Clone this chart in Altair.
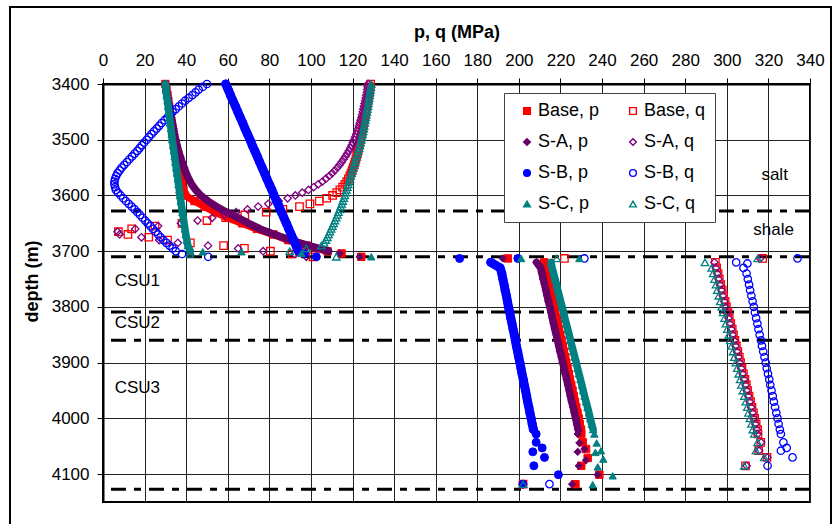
import altair as alt
import pandas as pd

# ---------------- data ----------------
SERIES = ["Base, p", "Base, q", "S-A, p", "S-A, q", "S-B, p", "S-B, q", "S-C, p", "S-C, q"]
COLORS = ["#FF0000", "#FF0000", "#660066", "#800080", "#0000FF", "#0000FF", "#008080", "#008080"]
FILLS = ["#FF0000", "transparent", "#660066", "transparent", "#0000FF", "transparent", "#008080", "transparent"]
SHAPES = ["square", "square", "diamond", "diamond", "circle", "circle", "triangle-up", "triangle-up"]

DEPTH_UP_P = list(range(3400, 3701, 10))   # upper p profiles
DEPTH_UP_Q = list(range(3400, 3711, 5))    # upper q profiles
DEPTH_LO = list(range(3720, 4021, 10))     # lower profiles

base_p_up = [30.0, 30.5, 31.0, 31.4, 31.8, 32.2, 32.6, 33.0, 33.4, 33.8, 34.2, 34.6, 35.0, 35.5, 36.0, 36.5,
             37.0, 37.5, 38.0, 38.7, 39.5, 44.0, 49.0, 54.0, 60.0, 67.0, 74.0, 82.0, 89.0, 98.0, 108.0]
sa_p_up = [30.0, 30.4, 30.9, 31.4, 31.9, 32.4, 32.9, 33.4, 33.9, 34.4, 34.9, 35.6, 36.3, 37.1, 38.0, 39.0,
           40.0, 41.2, 42.6, 44.6, 47.0, 50.5, 54.5, 59.5, 65.0, 70.0, 75.5, 82.5, 90.0, 99.0, 108.5]
sb_p_up = [59.0, 60.2, 61.3, 62.5, 63.7, 64.8, 66.0, 67.2, 68.3, 69.5, 70.7, 71.8, 73.0, 74.2, 75.3, 76.5,
           77.7, 78.8, 80.0, 81.2, 82.3, 83.5, 84.7, 85.8, 87.0, 88.2, 89.3, 90.5, 91.7, 92.8, 94.0]
sc_p_up = [30.0, 30.3, 30.6, 31.0, 31.3, 31.7, 32.0, 32.3, 32.7, 33.0, 33.3, 33.7, 34.1, 34.5, 34.8, 35.2,
           35.6, 36.0, 36.3, 36.7, 37.0, 37.4, 37.8, 38.2, 38.6, 39.0, 39.4, 39.8, 40.3, 40.8, 42.0]

base_q_up = [128.7, 128.5, 128.3, 128.1, 127.9, 127.6, 127.4, 127.1, 126.9, 126.6,
             126.4, 126.1, 125.9, 125.6, 125.4, 125.1, 124.9, 124.6, 124.4, 124.1,
             123.8, 123.5, 123.2, 122.9, 122.6, 122.3, 122.0, 121.6, 121.2, 120.8,
             120.3, 119.8, 119.3, 118.7, 118.0, 117.2, 116.3, 115.2, 113.9, 112.4,
             110.4, 107.6, 104.0, 99.5, 94.5, 86.5, 78.5, 68.2, 59.0, 50.0,
             38.0, 25.0, 13.8, 7.4, 12.0, 22.0, 31.0, 42.0, 58.0, 68.0,
             80.5, 91.0, 101.0]
sa_q_up = [127.5, 127.3, 127.1, 126.9, 126.6, 126.4, 126.1, 125.8, 125.5, 125.2,
           124.9, 124.6, 124.3, 123.9, 123.5, 123.1, 122.7, 122.3, 121.8, 121.3,
           120.8, 120.2, 119.6, 118.9, 118.2, 117.4, 116.6, 115.7, 114.8, 113.8,
           112.7, 111.5, 110.2, 108.8, 107.2, 105.5, 103.5, 101.3, 98.8, 95.8,
           92.5, 88.8, 84.5, 79.5, 74.6, 69.5, 64.0, 58.6, 52.5, 45.5,
           37.5, 26.5, 15.5, 7.0, 8.0, 18.5, 27.0, 36.0, 50.5, 65.0,
           77.0, 92.2, 97.8]
sb_q_up = [50.0, 48.0, 46.0, 44.5, 43.0, 41.2, 39.5, 38.0, 36.5, 35.0,
           33.5, 32.2, 31.0, 29.6, 28.2, 27.0, 25.8, 24.5, 23.3, 22.1,
           21.0, 19.8, 18.7, 17.6, 16.5, 15.2, 14.0, 12.7, 11.5, 10.2,
           9.0, 8.0, 7.0, 6.3, 5.8, 5.5, 5.5, 5.8, 6.2, 7.2,
           8.5, 9.7, 11.0, 12.4, 13.8, 15.2, 16.5, 17.8, 19.0, 20.3,
           21.5, 22.8, 24.0, 25.3, 26.5, 27.7, 29.0, 30.5, 32.0, 33.5,
           35.0, 38.0, 50.6]
sc_q_up = [129.0, 128.8, 128.6, 128.4, 128.2, 128.0, 127.8, 127.6, 127.4, 127.1,
           126.9, 126.6, 126.4, 126.1, 125.9, 125.6, 125.4, 125.1, 124.8, 124.5,
           124.2, 123.8, 123.5, 123.1, 122.7, 122.3, 121.9, 121.5, 121.1, 120.7,
           120.3, 119.9, 119.5, 119.1, 118.7, 118.3, 117.9, 117.5, 117.1, 116.7,
           116.3, 115.8, 115.3, 114.8, 114.3, 113.8, 113.2, 112.7, 112.1, 111.5,
           110.9, 110.3, 109.7, 109.1, 108.5, 107.9, 107.2, 106.3, 105.0, 97.8,
           89.8, 41.8, 112.2]

base_p_lo = [212.2, 212.8, 213.4, 214.0, 214.6, 215.2, 215.8, 216.3, 216.9, 217.5, 218.1, 218.7, 219.3, 219.9,
             220.5, 221.1, 221.7, 222.3, 222.8, 223.4, 224.0, 224.6, 225.2, 225.8, 226.4, 227.0, 227.6, 228.2,
             228.8, 229.3, 229.9]
sa_p_lo = [208.5, 210.5, 211.1, 211.7, 212.4, 213.0, 213.6, 214.2, 214.9, 215.5, 216.1, 216.7, 217.3, 218.0,
           218.6, 219.2, 219.8, 220.5, 221.1, 221.7, 222.3, 223.0, 223.6, 224.2, 224.8, 225.4, 226.1, 226.7,
           227.3, 227.9, 228.5]
sb_p_lo = [186.5, 191.0, 191.8, 192.3, 192.9, 193.4, 194.0, 194.5, 195.0, 195.6, 196.1, 196.7, 197.2, 197.8,
           198.3, 198.8, 199.4, 199.9, 200.5, 201.0, 201.5, 202.1, 202.6, 203.2, 203.7, 204.2, 204.8, 205.3,
           205.9, 206.4, 207.0]
sc_p_lo = [215.4, 216.0, 216.7, 217.4, 218.1, 218.7, 219.4, 220.1, 220.8, 221.5, 222.1, 222.8, 223.5, 224.2,
           224.8, 225.5, 226.2, 226.9, 227.6, 228.2, 228.9, 229.6, 230.3, 230.9, 231.6, 232.3, 233.0, 233.7,
           234.3, 235.0, 235.7]
base_q_lo = [294.5, 295.1, 295.8, 296.4, 297.1, 297.8, 298.5, 299.2, 299.8, 300.5, 301.2, 301.9, 302.6, 303.2,
             303.9, 304.6, 305.3, 306.0, 306.6, 307.3, 308.0, 308.7, 309.4, 310.0, 310.7, 311.4, 312.1, 312.8,
             313.4, 314.1, 314.8]
sa_q_lo = [294.0, 294.7, 295.4, 296.0, 296.7, 297.4, 298.1, 298.8, 299.4, 300.1, 300.8, 301.5, 302.2, 302.8,
           303.5, 304.2, 304.9, 305.6, 306.2, 306.9, 307.6, 308.3, 309.0, 309.6, 310.3, 311.0, 311.7, 312.4,
           313.0, 313.7, 314.4]
sb_q_lo = [304.5, 308.0, 309.5, 310.1, 310.7, 311.2, 311.8, 312.4, 313.0, 313.5, 314.1, 314.7, 315.2, 315.8,
           316.4, 316.9, 317.5, 318.1, 318.7, 319.2, 319.8, 320.4, 320.9, 321.5, 322.1, 322.6, 323.2, 323.8,
           324.4, 324.9, 325.5]
sc_q_lo = [289.5, 292.7, 293.4, 294.1, 294.8, 295.4, 296.1, 296.8, 297.5, 298.2, 298.9, 299.5, 300.2, 300.9,
           301.6, 302.3, 303.0, 303.6, 304.3, 305.0, 305.7, 306.4, 307.0, 307.7, 308.4, 309.1, 309.8, 310.4,
           311.1, 311.8, 312.5]

# isolated points (depth, value)
base_p_sd = [3704, 3710, 3713, 4028, 4043, 4055, 4071, 4085, 4101, 4118]
base_p_sv = [114.7, 124.2, 194.7, 230.0, 230.7, 232.3, 233.1, 230.0, 238.7, 227.2]
sa_p_sd = [3704, 3710, 3713, 4028, 4044, 4055, 4060, 4075, 4085, 4101, 4118]
sa_p_sv = [113.8, 123.4, 192.3, 228.3, 229.1, 231.5, 228.3, 232.3, 228.8, 237.9, 225.6]
sb_p_sd = [3704, 3710, 3713, 3713, 4028, 4043, 4053, 4060, 4070, 4085, 4101, 4118]
sb_p_sv = [97.0, 102.6, 171.5, 199.5, 208.3, 208.3, 211.2, 206.7, 212.3, 207.2, 219.0, 201.9]
sc_p_sd = [3701, 3701, 3704, 3710, 3713, 3713, 4028, 4044, 4058, 4061, 4073, 4087, 4103, 4119]
sc_p_sv = [48.0, 66.6, 95.4, 129.0, 201.1, 229.1, 236.3, 237.4, 239.5, 236.8, 240.6, 237.9, 245.1, 235.5]
base_q_sd = [3713, 3713, 4028, 4043, 4058, 4070, 4085, 4118]
base_q_sv = [221.9, 317.2, 315.0, 316.3, 315.3, 319.3, 309.0, 202.0]
sa_q_sd = [3713, 4028, 4043, 4058, 4070, 4085, 4118]
sa_q_sv = [316.0, 314.8, 316.5, 315.5, 319.5, 309.5, 202.0]
sb_q_sd = [3713, 3713, 3722, 4028, 4043, 4053, 4058, 4070, 4085, 4118]
sb_q_sv = [231.5, 334.0, 309.9, 326.0, 327.2, 328.8, 326.0, 331.6, 319.6, 214.7]
sc_q_sd = [3713, 3713, 4028, 4043, 4058, 4070, 4085, 4118]
sc_q_sv = [218.2, 314.8, 313.2, 314.8, 314.0, 318.0, 308.4, 202.0]

# horizon lines and unit labels
horizon_depths = [3628, 3710, 3809, 3860, 4127]
unit_labels = ["salt", "shale", "CSU1", "CSU2", "CSU3"]
unit_x = [323.0, 322.5, 16.5, 16.5, 16.5]
unit_depth = [3563, 3662, 3754, 3829, 3946]

x_ticks = list(range(0, 341, 20))
y_ticks = list(range(3400, 4101, 100))

UP = {
    "Base, p": (DEPTH_UP_P, base_p_up), "S-A, p": (DEPTH_UP_P, sa_p_up),
    "S-B, p": (DEPTH_UP_P, sb_p_up), "S-C, p": (DEPTH_UP_P, sc_p_up),
    "Base, q": (DEPTH_UP_Q, base_q_up), "S-A, q": (DEPTH_UP_Q, sa_q_up),
    "S-B, q": (DEPTH_UP_Q, sb_q_up), "S-C, q": (DEPTH_UP_Q, sc_q_up),
}
LO = {
    "Base, p": base_p_lo, "S-A, p": sa_p_lo, "S-B, p": sb_p_lo, "S-C, p": sc_p_lo,
    "Base, q": base_q_lo, "S-A, q": sa_q_lo, "S-B, q": sb_q_lo, "S-C, q": sc_q_lo,
}
SC = {
    "Base, p": (base_p_sd, base_p_sv), "S-A, p": (sa_p_sd, sa_p_sv),
    "S-B, p": (sb_p_sd, sb_p_sv), "S-C, p": (sc_p_sd, sc_p_sv),
    "Base, q": (base_q_sd, base_q_sv), "S-A, q": (sa_q_sd, sa_q_sv),
    "S-B, q": (sb_q_sd, sb_q_sv), "S-C, q": (sc_q_sd, sc_q_sv),
}

FONT = "Liberation Sans"

X = alt.X("value:Q",
          scale=alt.Scale(domain=[0, 340], nice=False, zero=False),
          axis=alt.Axis(orient="top", values=x_ticks, title="p, q (MPa)", labelFlush=False,
                        labelOverlap=False, labelPadding=9, titlePadding=10, tickSize=6))
Y = alt.Y("depth:Q",
          scale=alt.Scale(domain=[3400, 4150], reverse=True, nice=False, zero=False),
          axis=alt.Axis(values=y_ticks, title="depth (m)", labelFlush=False, labelOverlap=False,
                        labelPadding=8, titlePadding=10, tickSize=6, format="d", titleY=197))

leg = alt.Legend(orient="none", legendX=401, legendY=9, columns=2, direction="horizontal",
                 fillColor="white", strokeColor="#444", padding=9, symbolOffset=5,
                 labelFont=FONT, labelFontSize=18, labelColor="black", labelOffset=2,
                 symbolSize=45, symbolStrokeWidth=1.4, rowPadding=13, columnPadding=19)
C = alt.Color("series:N", scale=alt.Scale(domain=SERIES, range=COLORS), legend=leg, title=None)
F = alt.Fill("series:N", scale=alt.Scale(domain=SERIES, range=FILLS), legend=leg, title=None)
S = alt.Shape("series:N", scale=alt.Scale(domain=SERIES, range=SHAPES), legend=leg, title=None)

layers = []

# outer frame of the figure
frame = alt.Chart(pd.DataFrame({"k": [0]})).mark_rect(
    fillOpacity=0, stroke="black", strokeWidth=2
).encode(x=alt.value(-93), x2=alt.value(728), y=alt.value(-77), y2=alt.value(460))
layers.append(frame)

rules = alt.Chart(pd.DataFrame({"depth": horizon_depths})).mark_rule(
    color="black", strokeWidth=3, strokeDash=[15, 8, 7, 8]
).encode(y=Y)
layers.append(rules)

for i, name in enumerate(SERIES):
    ud, uv = UP[name]
    sd, sv = SC[name]
    rows = []
    rows += [{"series": name, "depth": d, "value": v, "seg": "U"} for d, v in zip(ud, uv)]
    rows += [{"series": name, "depth": d, "value": v, "seg": "L"} for d, v in zip(DEPTH_LO, LO[name])]
    rows += [{"series": name, "depth": d, "value": v, "seg": "S"} for d, v in zip(sd, sv)]
    df = pd.DataFrame(rows)
    is_p = name.endswith("p")
    if is_p:
        lw = 9 if name == "S-B, p" else 7.5
        line = alt.Chart(df[df.seg != "S"]).mark_line(
            strokeWidth=lw, strokeCap="round", strokeJoin="round", color=COLORS[i]
        ).encode(x=X, y=Y, detail="seg:N", order="depth:Q")
        layers.append(line)
        size = 64 if name == "S-B, p" else 55
        pts = alt.Chart(df).mark_point(filled=False, opacity=1, size=size, strokeWidth=1).encode(
            x=X, y=Y, color=C, fill=F, shape=S)
    else:
        pts = alt.Chart(df).mark_point(filled=False, opacity=1, size=55, strokeWidth=1.3).encode(
            x=X, y=Y, color=C, fill=F, shape=S)
    layers.append(pts)

texts = alt.Chart(pd.DataFrame({"label": unit_labels, "value": unit_x, "depth": unit_depth})).mark_text(
    font=FONT, fontSize=17, color="black", align="center", baseline="middle"
).encode(x=X, y=Y, text="label:N")
layers.append(texts)

chart = alt.layer(*layers).properties(
    width=707, height=418,
    autosize=alt.AutoSizeParams(type="none"),
    padding={"left": 103, "top": 84, "right": 30, "bottom": 22},
    background="white",
).configure_view(
    stroke="black", strokeWidth=2
).configure_axis(
    labelFont=FONT, labelFontSize=17, labelColor="black",
    titleFont=FONT, titleFontSize=18, titleFontWeight="bold", titleColor="black",
    domainColor="black", domainWidth=2, tickColor="black", tickWidth=1,
    gridColor="#222", gridWidth=1, gridOpacity=1
)

chart.save("out.html", embed_options={"renderer": "svg", "actions": False})
